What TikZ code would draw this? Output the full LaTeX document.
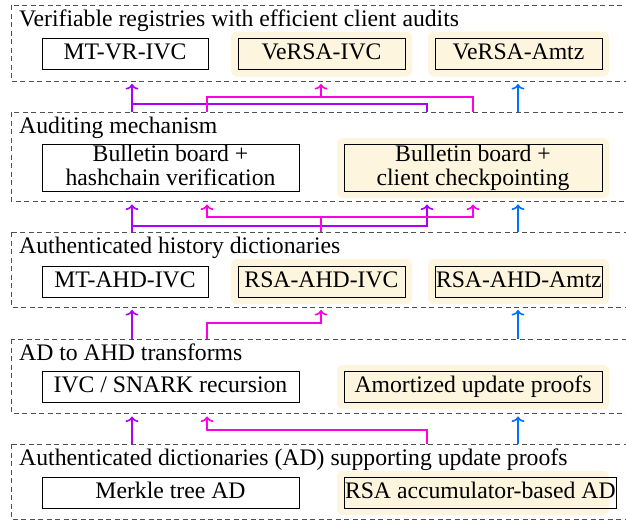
\documentclass[tikz,border=0pt]{standalone}
\usepackage{fontspec}
\setmainfont{Liberation Serif}
\usetikzlibrary{arrows.meta}
\definecolor{cpurple}{RGB}{170,0,255}
\definecolor{cmag}{RGB}{255,0,230}
\definecolor{cblue}{RGB}{0,112,255}
\definecolor{hl}{RGB}{253,245,222}
\definecolor{framegray}{RGB}{80,80,80}
\newcommand\dgfont{\fontsize{23.7}{24}\selectfont}
\begin{document}
\begin{tikzpicture}[x=1pt,y=-1pt,
  layer/.style={draw=framegray, dash pattern=on 5pt off 3.5pt, line width=0.9pt},
  ltitle/.style={anchor=base west, inner sep=0pt, font=\dgfont},
  box/.style={draw, line width=0.8pt, inner sep=1pt, outer sep=0pt, text height=16pt, text depth=5pt, minimum height=31pt, font=\dgfont, anchor=west},
  boxtwo/.style={draw, line width=0.8pt, inner sep=0.5pt, outer sep=0pt, minimum height=46pt, align=center, font=\dgfont, anchor=west},
  hlbox/.style={fill=hl, rounded corners=6pt},
  conn/.style={line width=1.6pt, line join=miter},
  tip/.style={-{To[length=5.5pt,width=13pt]}},
  pp/.style={conn, draw=cpurple},
  mm/.style={conn, draw=cmag},
  bb/.style={conn, draw=cblue}
]
\clip (0,0) rectangle (626,523);
\fill[white] (0,0) rectangle (626,523);

% highlights
\fill[hlbox] (231,31.5) rectangle (412,76.5);
\fill[hlbox] (428,31.5) rectangle (609,76.5);
\fill[hlbox] (337,138) rectangle (609,198);
\fill[hlbox] (231,259) rectangle (412,304);
\fill[hlbox] (428,259) rectangle (609,304);
\fill[hlbox] (337,365) rectangle (609,409);
\fill[hlbox] (337,471) rectangle (609,515);

% layer frames
\draw[layer] (11,5) rectangle (640,81);
\draw[layer] (11,112) rectangle (640,201);
\draw[layer] (11,232) rectangle (640,307);
\draw[layer] (11,339) rectangle (640,413);
\draw[layer] (11,444) rectangle (640,519);

% titles
\node[ltitle] (t1) at (19,26) {Verifiable registries with efficient client audits};
\node[ltitle] (t2) at (19,133) {Auditing mechanism};
\node[ltitle] (t3) at (19,253) {Authenticated history dictionaries};
\node[ltitle] (t4) at (19,360) {AD to AHD transforms};
\node[ltitle] (t5) at (19,465) {Authenticated dictionaries (AD) supporting update proofs};

% boxes
\node[box, minimum width=166pt] (mtvr) at (42,54) {MT-VR-IVC};
\node[box, minimum width=167pt] (versaivc) at (238,54) {VeRSA-IVC};
\node[box, minimum width=167pt] (versaamtz) at (435,54) {VeRSA-Amtz};
\node[boxtwo, minimum width=257pt] (bbhash) at (42,168) {Bulletin board +\\hashchain verification\vphantom{p}};
\node[boxtwo, minimum width=258pt] (bbclient) at (344,168) {Bulletin board +\\client checkpointing};
\node[box, minimum width=166pt] (mtahd) at (42,281.5) {MT-AHD-IVC};
\node[box, minimum width=167pt] (rsaahdivc) at (238,281.5) {RSA-AHD-IVC};
\node[box, minimum width=167pt] (rsaahdamtz) at (435,281.5) {RSA-AHD-Amtz};
\node[box, minimum width=257pt] (ivc) at (42,387) {IVC / SNARK recursion};
\node[box, minimum width=258pt] (amort) at (344,387) {Amortized update proofs};
\node[box, minimum width=257pt] (merkle) at (42,493) {Merkle tree AD};
\node[box, minimum width=258pt] (rsaacc) at (344,493) {RSA accumulator-based AD};

% connector columns and levels
\coordinate (cA) at (132,0);
\coordinate (cB) at (207,0);
\coordinate (cC) at (321,0);
\coordinate (cD) at (427,0);
\coordinate (cE) at (473,0);
\coordinate (cF) at (518,0);
\coordinate (k1) at (0,84);
\coordinate (k2) at (0,204.5);
\coordinate (k3) at (0,310);
\coordinate (k4) at (0,416.5);
\coordinate (s2) at (0,112);
\coordinate (s3) at (0,232);
\coordinate (s4) at (0,339);
\coordinate (s5) at (0,444);
\coordinate (m1) at (0,97);
\coordinate (p1) at (0,104);
\coordinate (m2) at (0,217);
\coordinate (p2) at (0,226);
\coordinate (m3) at (0,323);
\coordinate (m4) at (0,430);

% layer 2 -> layer 1
\draw[pp] (cD |- s2) -- (cD |- p1) -- (cA |- p1);
\draw[pp, tip] (cA |- s2) -- (cA |- k1);
\draw[mm] (cB |- s2) -- (cB |- m1) -- (cE |- m1) -- (cE |- s2);
\draw[mm, tip] (cC |- m1) -- (cC |- k1);
\draw[bb, tip] (cF |- s2) -- (cF |- k1);

% layer 3 -> layer 2
\draw[pp, tip] (cA |- s3) -- (cA |- k2);
\draw[pp, tip] (cA |- p2) -- (cD |- p2) -- (cD |- k2);
\draw[mm, tip] (cC |- s3) -- (cC |- m2) -- (cB |- m2) -- (cB |- k2);
\draw[mm, tip] (cC |- m2) -- (cE |- m2) -- (cE |- k2);
\draw[bb, tip] (cF |- s3) -- (cF |- k2);

% layer 4 -> layer 3
\draw[pp, tip] (cA |- s4) -- (cA |- k3);
\draw[mm, tip] (cB |- s4) -- (cB |- m3) -- (cC |- m3) -- (cC |- k3);
\draw[bb, tip] (cF |- s4) -- (cF |- k3);

% layer 5 -> layer 4
\draw[pp, tip] (cA |- s5) -- (cA |- k4);
\draw[mm, tip] (cD |- s5) -- (cD |- m4) -- (cB |- m4) -- (cB |- k4);
\draw[bb, tip] (cF |- s5) -- (cF |- k4);
\end{tikzpicture}
\end{document}
